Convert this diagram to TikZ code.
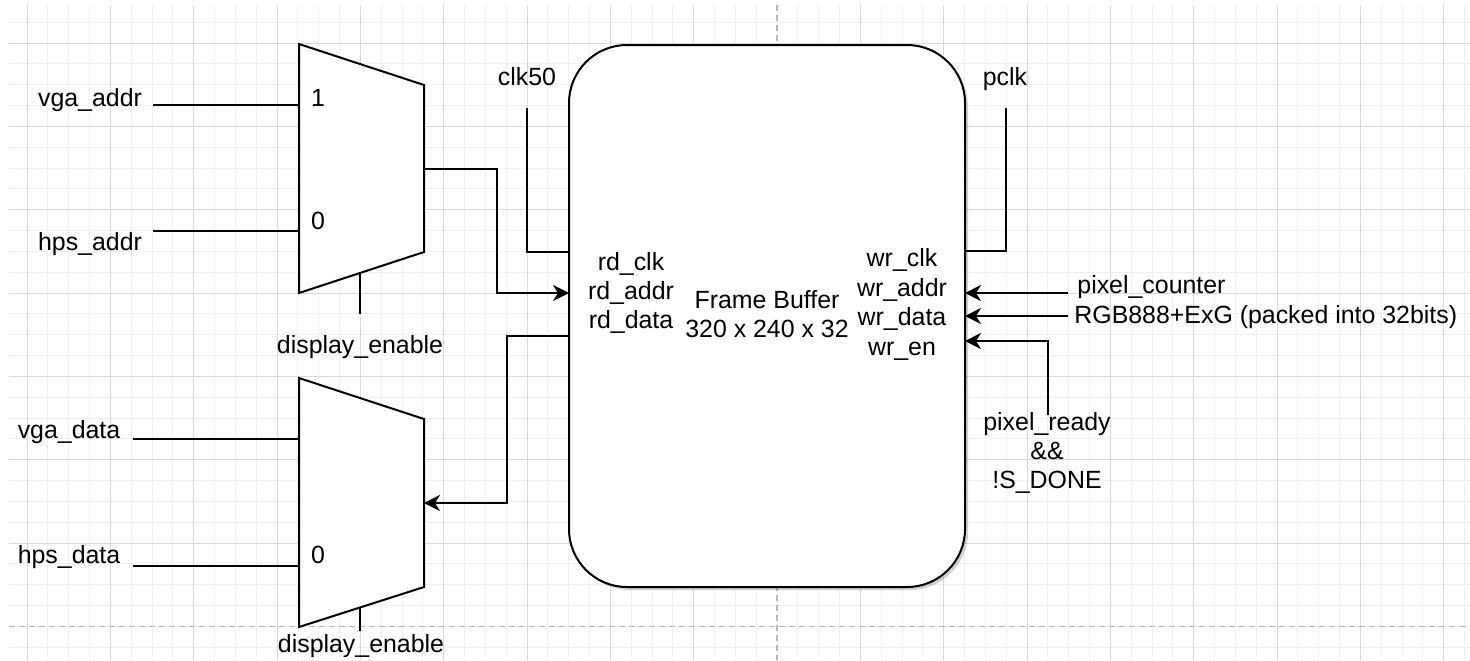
\documentclass[tikz,border=0pt]{standalone}
\usepackage{fontspec}
\setmainfont{Liberation Sans}
\usetikzlibrary{arrows.meta,shadows}
\definecolor{minorgrid}{gray}{0.94}
\definecolor{majorgrid}{gray}{0.85}
\definecolor{pagebreak}{gray}{0.72}
\tikzset{
  wire/.style={line width=1pt, draw=black},
  sig/.style={wire, -{Stealth[length=8pt,width=8pt,inset=2.5pt]}},
  lbl/.style={font=\fontsize{12.45}{14.5}\selectfont, inner sep=0pt, anchor=base},
  lblw/.style={lbl, anchor=base west},
  muxshape/.style={line width=1pt, draw=black, fill=white, line join=miter},
  fbbox/.style={rectangle, draw=black, line width=1pt, fill=white, rounded corners=29pt,
    minimum width=198pt, minimum height=271pt, inner sep=0pt,
    drop shadow={shadow xshift=1.5pt, shadow yshift=-1.5pt, fill=black, opacity=0.18}},
  gminor/.style={draw=minorgrid, line width=0.5pt},
  gmajor/.style={draw=majorgrid, line width=0.5pt},
  gbreak/.style={draw=pagebreak, line width=0.6pt, dash pattern=on 3pt off 2pt}
}
\begin{document}
\begin{tikzpicture}[x=0.5pt,y=-0.5pt]
\useasboundingbox (0,0) rectangle (1470,660);
\fill[white] (0,0) rectangle (1470,660);
% grid
\foreach \k in {0,...,69} { \pgfmathsetmacro\gx{27+\k*20.8333} \draw[gminor] (\gx,5) -- (\gx,660); }
\foreach \k in {0,...,30} { \pgfmathsetmacro\gy{22.17+\k*20.8333} \draw[gminor] (9,\gy) -- (1470,\gy); }
\foreach \k in {0,...,8,10,11,...,17} { \pgfmathsetmacro\gx{27+\k*83.3333} \draw[gmajor] (\gx,5) -- (\gx,660); }
\foreach \k in {0,...,6} { \pgfmathsetmacro\gy{43+\k*83.3333} \draw[gmajor] (9,\gy) -- (1470,\gy); }
\draw[gbreak] (777,5) -- (777,660);
\draw[gbreak] (9,626.3) -- (1470,626.3);

% ---------- top multiplexer ----------
\coordinate (m1tl) at (299,44);
\coordinate (m1tr) at (424,85);
\coordinate (m1br) at (424,252);
\coordinate (m1bl) at (299,293);
\draw[muxshape] (m1tl) -- (m1tr) -- (m1br) -- (m1bl) -- cycle;
\coordinate (m1in1) at (299,105);
\coordinate (m1in0) at (299,231);
\coordinate (m1out) at (424,169);
\coordinate (m1sel) at (360,273.2);
\coordinate (m1selend) at (360,314);
\coordinate (vgaaddrend) at (153,105);
\coordinate (hpsaddrend) at (153,231);

% ---------- bottom multiplexer ----------
\coordinate (m2tl) at (299,378);
\coordinate (m2tr) at (424,419);
\coordinate (m2br) at (424,587);
\coordinate (m2bl) at (299,627);
\draw[muxshape] (m2tl) -- (m2tr) -- (m2br) -- (m2bl) -- cycle;
\coordinate (m2in1) at (299,439);
\coordinate (m2in0) at (299,566);
\coordinate (m2out) at (424,503);
\coordinate (m2sel) at (360,607.5);
\coordinate (m2selend) at (360,631);
\coordinate (vgadataend) at (133,439);
\coordinate (hpsdataend) at (133,566);

% ---------- frame buffer ----------
\node[fbbox] (fb) at (767,316) {};
\coordinate (rdclkpin) at (569,252);
\coordinate (rdaddrpin) at (569,293);
\coordinate (rddatapin) at (569,336);
\coordinate (wrclkpin) at (965,251);
\coordinate (wraddrpin) at (965,293);
\coordinate (wrdatapin) at (965,316);
\coordinate (wrenpin) at (965,341);
\coordinate (clktop) at (527,108);
\coordinate (pclktop) at (1006,108);
\coordinate (pcend) at (1068,293);
\coordinate (rgbend) at (1068,316);
\coordinate (readyend) at (1048,415);

% ---------- wires ----------
\draw[wire] (vgaaddrend) -- (m1in1);
\draw[wire] (hpsaddrend) -- (m1in0);
\draw[wire] (m1sel) -- (m1selend);
\draw[sig] (m1out) -- (497,169) |- (rdaddrpin);
\draw[wire] (clktop) |- (rdclkpin);
\draw[sig] (rddatapin) -- (507,336) |- (m2out);
\draw[wire] (vgadataend) -- (m2in1);
\draw[wire] (hpsdataend) -- (m2in0);
\draw[wire] (m2sel) -- (m2selend);
\draw[wire] (pclktop) |- (wrclkpin);
\draw[sig] (pcend) -- (wraddrpin);
\draw[sig] (rgbend) -- (wrdatapin);
\draw[sig] (readyend) |- (wrenpin);

% ---------- labels ----------
\node[lbl] (tvgaaddr) at (90,106) {vga\_addr};
\node[lbl] (thpsaddr) at (90,250) {hps\_addr};
\node[lbl] (tone) at (318,106) {1};
\node[lbl] (tzero1) at (318,229) {0};
\node[lbl] (tde1) at (360,353) {display\_enable};
\node[lbl] (tvgadata) at (69,438) {vga\_data};
\node[lbl] (thpsdata) at (69,563) {hps\_data};
\node[lbl] (tzero2) at (318,563) {0};
\node[lbl] (tde2) at (361,652) {display\_enable};
\node[lbl] (tclk) at (527,85) {clk50};
\node[lbl] (tpclk) at (1005,85) {pclk};
\node[lbl] (trdclk) at (631,270) {rd\_clk};
\node[lbl] (trdaddr) at (631,299) {rd\_addr};
\node[lbl] (trddata) at (631,328) {rd\_data};
\node[lbl] (tfb1) at (767,308) {Frame Buffer};
\node[lbl] (tfb2) at (767,337) {320 x 240 x 32};
\node[lbl] (twrclk) at (902,266) {wr\_clk};
\node[lbl] (twraddr) at (902,296) {wr\_addr};
\node[lbl] (twrdata) at (902,325) {wr\_data};
\node[lbl] (twren) at (902,355) {wr\_en};
\node[lblw] (tpc) at (1077,293) {pixel\_counter};
\node[lblw] (trgb) at (1074,323) {RGB888+ExG (packed into 32bits)};
\node[lbl] (tready1) at (1047,430) {pixel\_ready};
\node[lbl] (tready2) at (1047,459) {\&\&};
\node[lbl] (tready3) at (1047,488) {!S\_DONE};
\end{tikzpicture}
\end{document}
